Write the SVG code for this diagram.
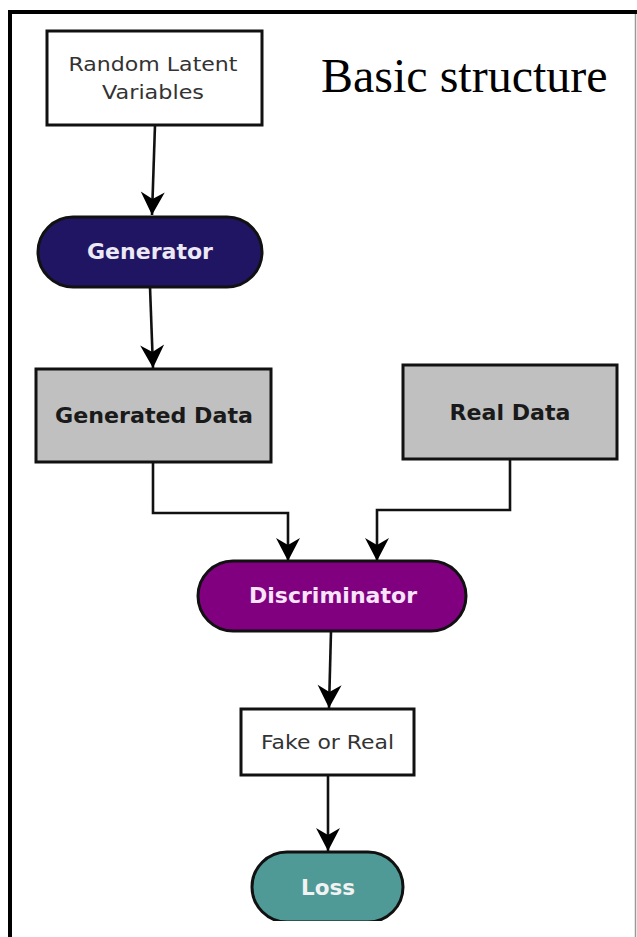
<svg xmlns="http://www.w3.org/2000/svg" width="637" height="937" viewBox="0 0 637 937">
  <style>
    .box { stroke: #111; stroke-width: 3; }
    .lbl { font-family: "DejaVu Sans", Verdana, sans-serif; text-anchor: middle; }
    .reg { fill: #333; font-size: 20px; }
    .bold { font-weight: bold; font-size: 21px; }
    .conn { fill: none; stroke: #111; stroke-width: 2.6; }
  </style>
  <defs>
    <marker id="arr" markerUnits="userSpaceOnUse" markerWidth="26" markerHeight="26" viewBox="-1 -13 26 26" refX="23" refY="0" orient="auto">
      <path d="M0,-12 L23,0 L0,12 L7,0 z" fill="#000"/>
    </marker>
    <clipPath id="clipBottom">
      <rect x="0" y="0" width="637" height="921"/>
    </clipPath>
  </defs>
  <rect x="0" y="0" width="637" height="937" fill="#fff"/>

  <g id="frame">
    <line x1="8" y1="12" x2="637" y2="12" stroke="#000" stroke-width="4"/>
    <line x1="10" y1="10" x2="10" y2="937" stroke="#000" stroke-width="4"/>
    <line x1="635.5" y1="14" x2="635.5" y2="937" stroke="#999" stroke-width="1.5"/>
  </g>

  <g id="title">
    <text x="321" y="92" font-family="'Liberation Serif', 'Times New Roman', serif" font-size="48" fill="#000">Basic structure</text>
  </g>

  <g id="connectors">
    <path class="conn" d="M155,125 L152,215" marker-end="url(#arr)"/>
    <path class="conn" d="M150,287 L153,368" marker-end="url(#arr)"/>
    <path class="conn" d="M153,462 L153,513 L288,513 L288,561" marker-end="url(#arr)"/>
    <path class="conn" d="M510,459 L510,510 L377,510 L377,561" marker-end="url(#arr)"/>
    <path class="conn" d="M331,631 L329,708" marker-end="url(#arr)"/>
    <path class="conn" d="M328,776 L328,851" marker-end="url(#arr)"/>
  </g>

  <g id="random-latent">
    <rect class="box" x="47" y="31" width="215" height="94" fill="#fff"/>
    <text class="lbl reg" x="153" y="71" textLength="169" lengthAdjust="spacingAndGlyphs">Random Latent</text>
    <text class="lbl reg" x="153" y="99" textLength="102" lengthAdjust="spacingAndGlyphs">Variables</text>
  </g>

  <g id="generator">
    <rect class="box" x="38" y="217" width="224" height="70" rx="35" ry="35" fill="#201563"/>
    <text class="lbl bold" x="150" y="259" fill="#ece8f4" textLength="126" lengthAdjust="spacingAndGlyphs">Generator</text>
  </g>

  <g id="generated-data">
    <rect class="box" x="36" y="369" width="235" height="93" fill="#c0c0c0"/>
    <text class="lbl bold" x="154" y="423" fill="#1a1a1a" textLength="198" lengthAdjust="spacingAndGlyphs">Generated Data</text>
  </g>

  <g id="real-data">
    <rect class="box" x="403" y="365" width="214" height="94" fill="#c0c0c0"/>
    <text class="lbl bold" x="510" y="420" fill="#1a1a1a" textLength="121" lengthAdjust="spacingAndGlyphs">Real Data</text>
  </g>

  <g id="discriminator">
    <rect class="box" x="198" y="561" width="268" height="70" rx="35" ry="35" fill="#800080"/>
    <text class="lbl bold" x="333" y="603" fill="#f8e4f8" textLength="168" lengthAdjust="spacingAndGlyphs">Discriminator</text>
  </g>

  <g id="fake-or-real">
    <rect class="box" x="241" y="709" width="173" height="66" fill="#fff"/>
    <text class="lbl reg" x="327.5" y="749" textLength="133" lengthAdjust="spacingAndGlyphs">Fake or Real</text>
  </g>

  <g id="loss" clip-path="url(#clipBottom)">
    <rect class="box" x="252" y="852" width="151" height="70" rx="35" ry="35" fill="#4f9a96"/>
    <text class="lbl bold" x="328" y="895" fill="#f2f2f2" textLength="54" lengthAdjust="spacingAndGlyphs">Loss</text>
  </g>
</svg>
